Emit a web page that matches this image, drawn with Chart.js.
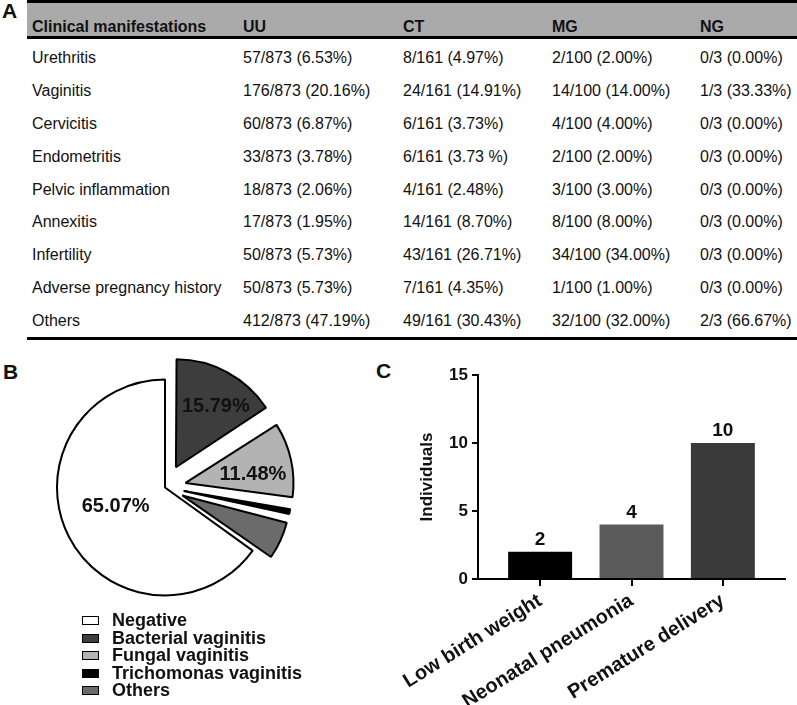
<!DOCTYPE html>
<html>
<head>
<meta charset="utf-8">
<script src="https://cdn.jsdelivr.net/npm/chart.js@4.4.0/dist/chart.umd.min.js"></script>
<style>
	body { margin: 0; width: 797px; height: 705px; position: relative; overflow: hidden; background: #fff;
		font-family: "Liberation Sans", Arial, sans-serif; color: #111; }
	.panel { position: absolute; font-weight: bold; font-size: 21px; line-height: 21px; }
	#tableA { position: absolute; left: 27px; top: 0; width: 770px; font-size: 16px; }
	.head { height: 33px; border-top: 3px solid #000; border-bottom: 3px solid #000; background: #aaa;
		display: flex; align-items: flex-end; font-weight: bold; line-height: 18px; }
	.body { padding-top: 3px; border-bottom: 3px solid #000; }
	.row { height: 32.8px; display: flex; align-items: center; line-height: 18px; }
	.cell { padding-left: 5px; box-sizing: border-box; white-space: nowrap; }
	#pieWrap { position: absolute; left: 0; top: 350px; width: 330px; height: 275px; }
	#barWrap { position: absolute; left: 380px; top: 350px; width: 417px; height: 355px; }
	#legendB { position: absolute; left: 82px; top: 612px; font-weight: bold; font-size: 18px; }
	.lg { height: 17.5px; display: flex; align-items: center; line-height: 17.5px; }
	.lg .box { width: 15px; height: 7px; border: 1.5px solid #000; margin-right: 13px; }
</style>
</head>
<body>
<div class="panel" style="left:2px;top:0">A</div>
<div class="panel" style="left:3px;top:361px">B</div>
<div class="panel" style="left:376px;top:360px">C</div>

<div id="tableA"></div>

<div id="pieWrap"><canvas id="pieB"></canvas></div>
<div id="legendB"></div>
<div id="barWrap"><canvas id="barC"></canvas></div>

<script>
'use strict';

// ---- A: table ----
const tableHeader = ['Clinical manifestations', 'UU', 'CT', 'MG', 'NG'];
const manifestations = ['Urethritis', 'Vaginitis', 'Cervicitis', 'Endometritis', 'Pelvic inflammation',
	'Annexitis', 'Infertility', 'Adverse pregnancy history', 'Others'];
const uuCells = ['57/873 (6.53%)', '176/873 (20.16%)', '60/873 (6.87%)', '33/873 (3.78%)', '18/873 (2.06%)',
	'17/873 (1.95%)', '50/873 (5.73%)', '50/873 (5.73%)', '412/873 (47.19%)'];
const ctCells = ['8/161 (4.97%)', '24/161 (14.91%)', '6/161 (3.73%)', '6/161 (3.73 %)', '4/161 (2.48%)',
	'14/161 (8.70%)', '43/161 (26.71%)', '7/161 (4.35%)', '49/161 (30.43%)'];
const mgCells = ['2/100 (2.00%)', '14/100 (14.00%)', '4/100 (4.00%)', '2/100 (2.00%)', '3/100 (3.00%)',
	'8/100 (8.00%)', '34/100 (34.00%)', '1/100 (1.00%)', '32/100 (32.00%)'];
const ngCells = ['0/3 (0.00%)', '1/3 (33.33%)', '0/3 (0.00%)', '0/3 (0.00%)', '0/3 (0.00%)',
	'0/3 (0.00%)', '0/3 (0.00%)', '0/3 (0.00%)', '2/3 (66.67%)'];

// ---- B: pie ----
const pieLabels = ['Negative', 'Bacterial vaginitis', 'Fungal vaginitis', 'Trichomonas vaginitis', 'Others'];
const pieValues = [65.07, 15.79, 11.48, 1.53, 6.13];

// ---- C: bars ----
const outcomeLabels = ['Low birth weight', 'Neonatal pneumonia', 'Premature delivery'];
const outcomeCounts = [2, 4, 10];

const FONT = '"Liberation Sans", Arial, sans-serif';
const colWidths = [211, 160, 149, 148, 102];
const pieColors = ['#ffffff', '#3d3d3d', '#b3b3b3', '#000000', '#6b6b6b'];
const barColors = ['#000000', '#5a5a5a', '#3a3a3a'];
const PIE_R = 108;

const makeRow = (cls, cells) => {
	const row = document.createElement('div');
	row.className = cls;
	cells.forEach((txt, j) => {
		const c = document.createElement('div');
		c.className = 'cell';
		c.style.width = colWidths[j] + 'px';
		c.textContent = txt;
		row.appendChild(c);
	});
	return row;
};

const buildTable = () => {
	const box = document.getElementById('tableA');
	box.appendChild(makeRow('head', tableHeader));
	const body = document.createElement('div');
	body.className = 'body';
	manifestations.forEach((m, i) => {
		body.appendChild(makeRow('row', [m, uuCells[i], ctCells[i], mgCells[i], ngCells[i]]));
	});
	box.appendChild(body);
};

const buildLegend = () => {
	const box = document.getElementById('legendB');
	pieLabels.forEach((name, i) => {
		const row = document.createElement('div');
		row.className = 'lg';
		row.innerHTML = '<span class="box" style="background:' + pieColors[i] + '"></span>' + name;
		box.appendChild(row);
	});
};

// chart.js grows the radius of small offset slices, pull them back to the common radius
const keepRadius = {
	id: 'keepRadius',
	afterDatasetUpdate(chart, args) {
		args.meta.data.forEach(arc => {
			const shift = (arc.options.offset || 0) / 4;
			const fix = 1 - Math.sin(Math.min(Math.PI, arc.circumference));
			arc.outerRadius -= shift * fix;
		});
	}
};

const pieText = {
	id: 'pieText',
	afterDatasetsDraw(chart, args, opts) {
		const {ctx} = chart;
		ctx.save();
		ctx.font = 'bold 20px ' + FONT;
		ctx.fillStyle = '#111';
		ctx.textAlign = 'center';
		ctx.textBaseline = 'middle';
		chart.getDatasetMeta(0).data.forEach((arc, i) => {
			if (pieValues[i] < 10) return;
			const mid = (arc.startAngle + arc.endAngle) / 2;
			const shift = (arc.options.offset || 0) / 4;
			const [turn, frac] = opts.place[i];
			const a = mid + turn * Math.PI / 180;
			const cx = arc.x + Math.cos(mid) * shift;
			const cy = arc.y + Math.sin(mid) * shift;
			ctx.fillText(pieValues[i].toFixed(2) + '%', cx + Math.cos(a) * frac * PIE_R, cy + Math.sin(a) * frac * PIE_R);
		});
		ctx.restore();
	}
};

const barValues = {
	id: 'barValues',
	afterDatasetsDraw(chart) {
		const {ctx} = chart;
		ctx.save();
		ctx.font = 'bold 19px ' + FONT;
		ctx.fillStyle = '#111';
		ctx.textAlign = 'center';
		ctx.textBaseline = 'alphabetic';
		chart.getDatasetMeta(0).data.forEach((bar, i) => {
			ctx.fillText(String(outcomeCounts[i]), bar.x, bar.y - 7);
		});
		ctx.restore();
	}
};

const setUpCharts = () => {
	Chart.defaults.font.family = FONT;
	Chart.defaults.color = '#111';

	const total = pieValues.reduce((a, b) => a + b, 0);
	new Chart(document.getElementById('pieB').getContext('2d'), {
		type: 'pie',
		data: {
			labels: pieLabels,
			datasets: [{
				data: pieValues,
				backgroundColor: pieColors,
				borderColor: '#000',
				borderWidth: 2,
				offset: [0, 92, 84, 76, 76],
			}],
		},
		options: {
			responsive: true,
			maintainAspectRatio: false,
			animation: false,
			events: [],
			radius: PIE_R,
			rotation: 360 * (1 - pieValues[0] / total),
			layout: {padding: 0},
			plugins: {
				legend: {display: false},
				tooltip: {enabled: false},
				pieText: {place: [[6, 0.49], [5, 0.67], [5, 0.63]]},
			},
		},
		plugins: [keepRadius, pieText],
	});

	const tickFont = {family: FONT, size: 17, weight: 'bold'};
	new Chart(document.getElementById('barC').getContext('2d'), {
		type: 'bar',
		data: {
			labels: outcomeLabels,
			datasets: [{
				data: outcomeCounts,
				backgroundColor: barColors,
				borderWidth: 0,
				categoryPercentage: 1,
				barPercentage: 0.7,
			}],
		},
		options: {
			responsive: true,
			maintainAspectRatio: false,
			animation: false,
			events: [],
			layout: {padding: {left: 36, top: 25, right: 12, bottom: 0}},
			plugins: {
				legend: {display: false},
				tooltip: {enabled: false},
			},
			scales: {
				x: {
					offset: true,
					afterBuildTicks: s => {
						// wider margins at both ends than the default half category
						s._startValue = -0.68;
						s._valueRange = s.ticks.length - 1 + 1.36;
					},
					afterFit: s => { s.height = 126; },
					grid: {offset: false, drawOnChartArea: false, drawTicks: true, tickLength: 7, color: '#000', lineWidth: 2},
					border: {color: '#000', width: 2},
					ticks: {color: '#111', font: {family: FONT, size: 20, weight: 'bold'}, minRotation: 32, maxRotation: 32, padding: 3, autoSkip: false},
				},
				y: {
					min: 0,
					max: 15,
					afterFit: s => { s.width = 62; },
					ticks: {stepSize: 5, color: '#111', font: tickFont, padding: 4},
					grid: {drawOnChartArea: false, tickLength: 6, color: '#000', lineWidth: 2},
					border: {color: '#000', width: 2},
					title: {display: true, text: 'Individuals', color: '#111', font: tickFont, padding: {top: 1, bottom: 0}},
				},
			},
		},
		plugins: [barValues],
	});
};

buildTable();
buildLegend();
setUpCharts();
</script>
</body>
</html>
